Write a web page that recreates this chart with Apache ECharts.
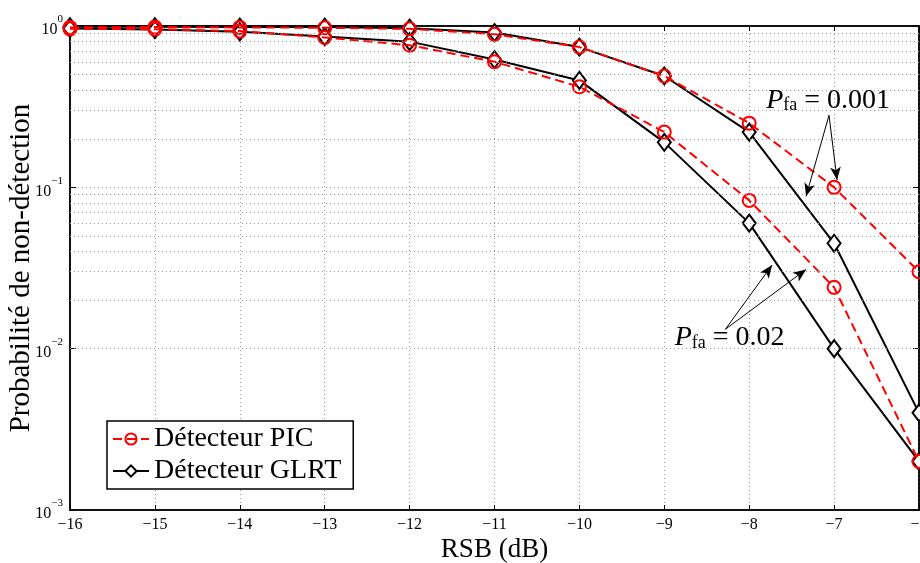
<!DOCTYPE html>
<html><head><meta charset="utf-8">
<script src="https://cdn.jsdelivr.net/npm/echarts@6/dist/echarts.min.js"></script>
<style>html,body{margin:0;padding:0;background:#fff}#c{width:920px;height:563px}</style>
</head><body><div id="c"></div>
<script>
// ---- data ----
const snr = [-16, -15, -14, -13, -12, -11, -10, -9, -8, -7, -6];
const picPfa001  = [0.98, 0.985, 0.98, 0.975, 0.96, 0.89, 0.74, 0.49, 0.25, 0.10, 0.030];
const glrtPfa001 = [0.99, 0.99, 0.985, 0.985, 0.97, 0.91, 0.74, 0.49, 0.22, 0.045, 0.004];
const picPfa02   = [0.96, 0.955, 0.93, 0.85, 0.76, 0.60, 0.42, 0.22, 0.083, 0.024, 0.002];
const glrtPfa02  = [0.965, 0.95, 0.92, 0.86, 0.80, 0.62, 0.46, 0.19, 0.060, 0.010, 0.002];
const yMinor = [0.002,0.003,0.004,0.005,0.006,0.007,0.008,0.009,
                0.02,0.03,0.04,0.05,0.06,0.07,0.08,0.09,
                0.2,0.3,0.4,0.5,0.6,0.7,0.8,0.9];
const legendNames = ['Détecteur PIC', 'Détecteur GLRT'];
const xName = 'RSB (dB)';
const yName = 'Probabilité de non-détection';
const label001 = '0.001';
const label02 = '0.02';
const label001Pos = [-7.07, 0.35];
const label02Pos = [-8.23, 0.0118];
const arrows001 = [[[-7.06, 0.28], [-7.33, 0.088]], [[-7.06, 0.28], [-6.965, 0.111]]];
const arrows02  = [[[-8.28, 0.0132], [-7.73, 0.033]], [[-8.28, 0.0132], [-7.33, 0.031]]];

const FONT = 'Liberation Serif';
const pairs = a => snr.map((x, i) => [x, a[i]]);
const minus = s => String(s).replace('-', '\u2212');

const picStyle = {
  type: 'line', name: legendNames[0], symbol: 'circle', symbolSize: 13,
  lineStyle: { color: '#ff0000', width: 2, type: [9, 5] },
  itemStyle: { color: 'rgba(255,255,255,0)', borderColor: '#ff0000', borderWidth: 2 },
  z: 4
};
const glrtStyle = {
  type: 'line', name: legendNames[1], symbol: 'diamond', symbolSize: [13, 17],
  lineStyle: { color: '#000', width: 2 },
  itemStyle: { color: '#fff', borderColor: '#000', borderWidth: 2 },
  z: 3
};
const annLabel = (txt) => ({
  show: true, position: 'inside',
  formatter: '{p|P}{sub|fa}{t| = ' + txt + '}',
  rich: {
    p: { fontFamily: FONT, fontStyle: 'italic', fontSize: 28, color: '#000', verticalAlign: 'bottom', lineHeight: 30 },
    sub: { fontFamily: FONT, fontSize: 18, color: '#000', verticalAlign: 'bottom', lineHeight: 22 },
    t: { fontFamily: FONT, fontSize: 28, color: '#000', verticalAlign: 'bottom', lineHeight: 30 }
  }
});
const arrowLine = (arr) => ({
  silent: true, symbol: ['none', 'arrow'], symbolSize: [8, 13],
  lineStyle: { color: '#000', width: 1, type: 'solid' },
  label: { show: false }, emphasis: { disabled: true },
  data: arr.map(a => [{ coord: a[0] }, { coord: a[1] }])
});

const chart = echarts.init(document.getElementById('c'), null, { renderer: 'canvas' });
chart.setOption({
  animation: false,
  backgroundColor: '#fff',
  grid: { left: 70, right: 1, top: 26, bottom: 53, containLabel: false, outerBoundsMode: 'none',
          show: true, borderColor: '#000', borderWidth: 1.5, backgroundColor: 'transparent' },
  legend: {
    data: legendNames.map(n => ({ name: n })),
    orient: 'vertical', left: 107, top: 421,
    backgroundColor: '#fff', borderColor: '#000', borderWidth: 1.5, borderRadius: 0,
    padding: [4, 12, 4, 5], itemGap: 4, itemWidth: 36, itemHeight: 14,
    textStyle: { fontFamily: FONT, fontSize: 28, color: '#000' },
    selectedMode: false
  },
  xAxis: [{
    type: 'value', min: -16, max: -6, interval: 1,
    name: xName, nameLocation: 'middle', nameGap: 26, nameMoveOverlap: false,
    nameTextStyle: { fontFamily: FONT, fontSize: 27, color: '#000' },
    axisLine: { show: true, onZero: false, lineStyle: { color: '#000', width: 1.5 } },
    axisTick: { show: true, inside: true, length: 5, lineStyle: { color: '#000' } },
    axisLabel: { fontFamily: FONT, fontSize: 16, color: '#000', margin: 7, formatter: v => minus(v) },
    splitLine: { show: true, lineStyle: { color: '#999', type: [1, 3], width: 1 } }
  }, {
    type: 'value', min: -16, max: -6, interval: 1, position: 'top',
    axisLine: { show: true, onZero: false, lineStyle: { color: '#000', width: 1.5 } },
    axisTick: { show: true, inside: true, length: 5, lineStyle: { color: '#000' } },
    axisLabel: { show: false }, splitLine: { show: false }
  }],
  yAxis: [{
    type: 'log', logBase: 10, min: 0.001, max: 1,
    name: yName, nameLocation: 'middle', nameGap: 34, nameMoveOverlap: false,
    nameTextStyle: { fontFamily: FONT, fontSize: 29, color: '#000' },
    axisLine: { show: true, onZero: false, lineStyle: { color: '#000', width: 1.5 } },
    axisTick: { show: true, inside: true, length: 6, lineStyle: { color: '#000' } },
    axisLabel: {
      margin: 7,
      formatter: v => { const e = Math.round(Math.log10(v)); return '{b|10}{s|' + minus(e) + '}'; },
      rich: {
        b: { fontFamily: FONT, fontSize: 16, color: '#000', verticalAlign: 'bottom', lineHeight: 24 },
        s: { fontFamily: FONT, fontSize: 11, color: '#000', verticalAlign: 'top', lineHeight: 12 }
      }
    },
    splitLine: { show: true, lineStyle: { color: '#999', type: [1, 3], width: 1 } }
  }, {
    type: 'log', logBase: 10, min: 0.001, max: 1, position: 'right',
    axisLine: { show: true, onZero: false, lineStyle: { color: '#000', width: 1.5 } },
    axisTick: { show: true, inside: true, length: 6, lineStyle: { color: '#000' } },
    axisLabel: { show: false }, splitLine: { show: false }
  }],
  series: [
    { // minor log grid lines
      type: 'line', name: 'grid', data: [], silent: true, z: 1,
      markLine: {
        silent: true, symbol: ['none', 'none'], label: { show: false },
        lineStyle: { color: '#999', type: [1, 3], width: 1 },
        emphasis: { disabled: true },
        data: yMinor.map(v => ({ yAxis: v }))
      }
    },
    Object.assign({}, glrtStyle, { data: pairs(glrtPfa001),
      markLine: arrowLine(arrows001),
      markPoint: { symbol: 'circle', symbolSize: 0, silent: true, label: annLabel(label001), data: [{ coord: label001Pos }] } }),
    Object.assign({}, glrtStyle, { data: pairs(glrtPfa02),
      markLine: arrowLine(arrows02),
      markPoint: { symbol: 'circle', symbolSize: 0, silent: true, label: annLabel(label02), data: [{ coord: label02Pos }] } }),
    Object.assign({}, picStyle, { data: pairs(picPfa001) }),
    Object.assign({}, picStyle, { data: pairs(picPfa02) })
  ]
});
</script></body></html>
